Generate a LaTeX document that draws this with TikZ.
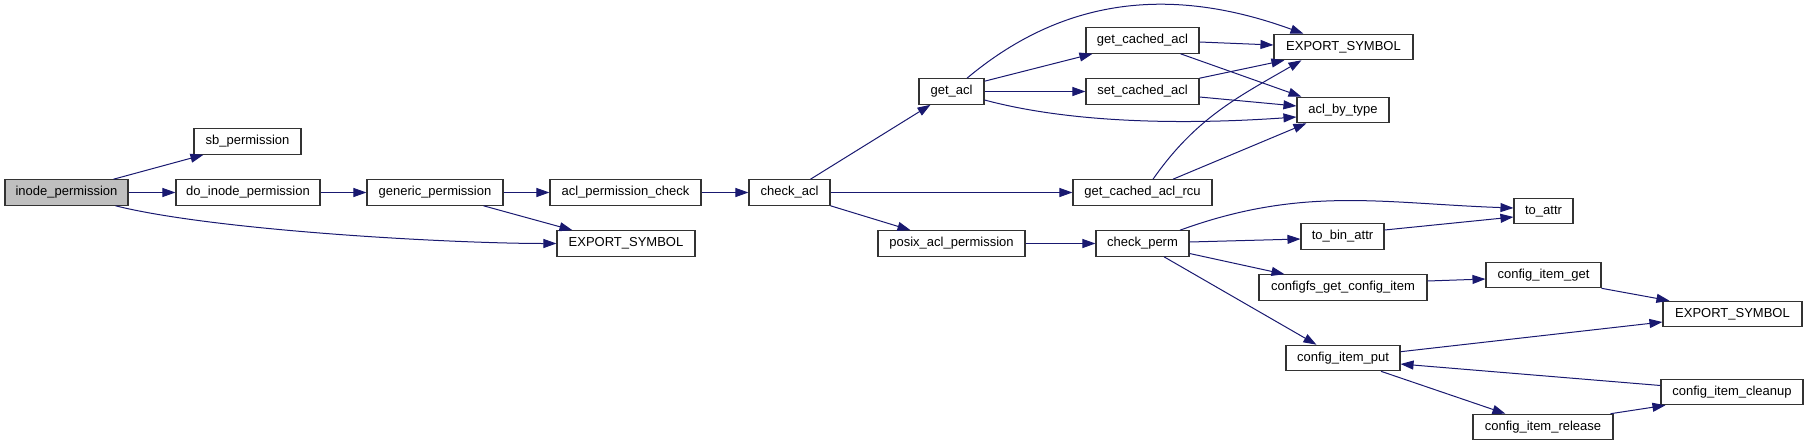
\documentclass[tikz,border=0pt]{standalone}
\usepackage{fontspec}
\setmainfont{Liberation Sans}
\usetikzlibrary{arrows.meta}
\definecolor{azulnoche}{RGB}{25,25,112}
\begin{document}
\begin{tikzpicture}[x=1pt,y=1pt,
	caja/.style={draw=black!80,line width=1.1pt,rectangle,inner sep=0pt,minimum height=25.5pt,
		text height=9.5pt,text depth=3pt,font=\fontsize{13}{15}\selectfont},
	raiz/.style={caja,fill=black!25},
	flecha/.style={draw=azulnoche,line width=1pt,-{Triangle[length=13pt,width=9pt]}}]
	\useasboundingbox (0,0) rectangle (1808,-445);
	%Cajas columna 1 a 3%
	\node[raiz,minimum width=123pt](inode)at (66.5,-192.5) {inode\_permission};
	\node[caja,minimum width=107pt](sbperm)at (247.5,-141.5) {sb\_permission};
	\node[caja,minimum width=144pt](doinode)at (248,-192.5) {do\_inode\_permission};
	\node[caja,minimum width=136pt](generic)at (435,-192.5) {generic\_permission};
	\node[caja,minimum width=151pt](aclcheck)at (625.5,-192.5) {acl\_permission\_check};
	\node[caja,minimum width=138pt](exportuno)at (626,-243.5) {EXPORT\_SYMBOL};
	%Cajas columna 4 a 6%
	\node[caja,minimum width=81pt](checkacl)at (789.5,-192.5) {check\_acl};
	\node[caja,minimum width=65pt](getacl)at (951.5,-91.5) {get\_acl};
	\node[caja,minimum width=147pt](posix)at (951.5,-243.5) {posix\_acl\_permission};
	\node[caja,minimum width=113pt](getcached)at (1142.5,-40.5) {get\_cached\_acl};
	\node[caja,minimum width=113pt](setcached)at (1142.5,-91.5) {set\_cached\_acl};
	\node[caja,minimum width=139pt](rcu)at (1142.5,-192.5) {get\_cached\_acl\_rcu};
	\node[caja,minimum width=93pt](checkperm)at (1142.5,-243.5) {check\_perm};
	%Cajas columna 7%
	\node[caja,minimum width=139pt](exportdos)at (1343.5,-47) {EXPORT\_SYMBOL};
	\node[caja,minimum width=92pt](bytype)at (1343,-110) {acl\_by\_type};
	\node[caja,minimum width=83pt](tobin)at (1342.5,-236.5) {to\_bin\_attr};
	\node[caja,minimum width=168pt](configfs)at (1343,-287.5) {configfs\_get\_config\_item};
	\node[caja,minimum width=114pt](itemput)at (1343,-358) {config\_item\_put};
	%Cajas columna 8 y 9%
	\node[caja,minimum width=59pt](toattr)at (1543.5,-211) {to\_attr};
	\node[caja,minimum width=115pt](itemget)at (1543.5,-275) {config\_item\_get};
	\node[caja,minimum width=140pt](release)at (1543,-427) {config\_item\_release};
	\node[caja,minimum width=139pt](exporttres)at (1732.5,-314) {EXPORT\_SYMBOL};
	\node[caja,minimum width=142pt](cleanup)at (1732,-392) {config\_item\_cleanup};
	%Flechas%
	\draw[flecha] ([xshift=-15pt]inode.north east) -- ([xshift=10pt]sbperm.south west);
	\draw[flecha] (inode.east) -- (doinode.west);
	\draw[flecha] ([xshift=-13pt]inode.south east) to[out=-14,in=180,looseness=0.6] (exportuno.west);
	\draw[flecha] (doinode.east) -- (generic.west);
	\draw[flecha] (generic.east) -- (aclcheck.west);
	\draw[flecha] ([xshift=-20pt]generic.south east) -- ([xshift=16pt]exportuno.north west);
	\draw[flecha] (aclcheck.east) -- (checkacl.west);
	\draw[flecha] ([xshift=21pt]checkacl.north) -- ([xshift=-21pt]getacl.south);
	\draw[flecha] (checkacl.east) -- (rcu.west);
	\draw[flecha] (checkacl.south east) -- ([xshift=-41pt]posix.north);
	\draw[flecha] (posix.east) -- (checkperm.west);
	%Flechas de get_acl%
	\draw[flecha] ([xshift=15.5pt]getacl.north) to[out=40,in=160] ([xshift=-40pt]exportdos.north);
	\draw[flecha] ([yshift=-3pt]getacl.north east) -- ([xshift=7pt]getcached.south west);
	\draw[flecha] (getacl.east) -- (setcached.west);
	\draw[flecha] ([yshift=-8.5pt]getacl.east) to[out=-15,in=184,looseness=0.8] ([yshift=-7pt]bytype.west);
	\draw[flecha] ([yshift=-1.5pt]getcached.east) -- ([yshift=2pt]exportdos.west);
	\draw[flecha] ([xshift=-19pt]getcached.south east) -- ([xshift=5pt]bytype.north west);
	\draw[flecha] (setcached.north east) -- ([xshift=11pt]exportdos.south west);
	\draw[flecha] ([yshift=-5.5pt]setcached.east) -- ([yshift=4pt]bytype.west);
	\draw[flecha] ([xshift=10.5pt]rcu.north) to[out=55,in=-150] ([xshift=-42pt]exportdos.south);
	\draw[flecha] ([xshift=30.5pt]rcu.north) -- ([xshift=10pt]bytype.south west);
	%Flechas de check_perm%
	\draw[flecha] ([xshift=37.5pt]checkperm.north) to[out=20,in=178] ([yshift=3pt]toattr.west);
	\draw[flecha] ([yshift=1.5pt]checkperm.east) -- ([yshift=-2.5pt]tobin.west);
	\draw[flecha] ([yshift=-10pt]checkperm.east) -- ([xshift=26pt]configfs.north west);
	\draw[flecha] ([xshift=21.5pt]checkperm.south) -- ([xshift=31pt]itemput.north west);
	\draw[flecha] ([yshift=6.5pt]tobin.east) -- ([yshift=-6pt]toattr.west);
	\draw[flecha] ([yshift=6.5pt]configfs.east) -- ([yshift=-4pt]itemget.west);
	\draw[flecha] (itemget.south east) -- ([xshift=7pt]exporttres.north west);
	\draw[flecha] ([yshift=-7pt]itemput.north east) -- ([yshift=-8pt]exporttres.west);
	\draw[flecha] ([xshift=38pt]itemput.south) -- ([xshift=33pt]release.north west);
	\draw[flecha] ([xshift=-3pt]release.north east) -- ([xshift=5pt]cleanup.south west);
	\draw[flecha] ([yshift=6.5pt]cleanup.west) -- ([yshift=-6pt]itemput.east);
\end{tikzpicture}
\end{document}
